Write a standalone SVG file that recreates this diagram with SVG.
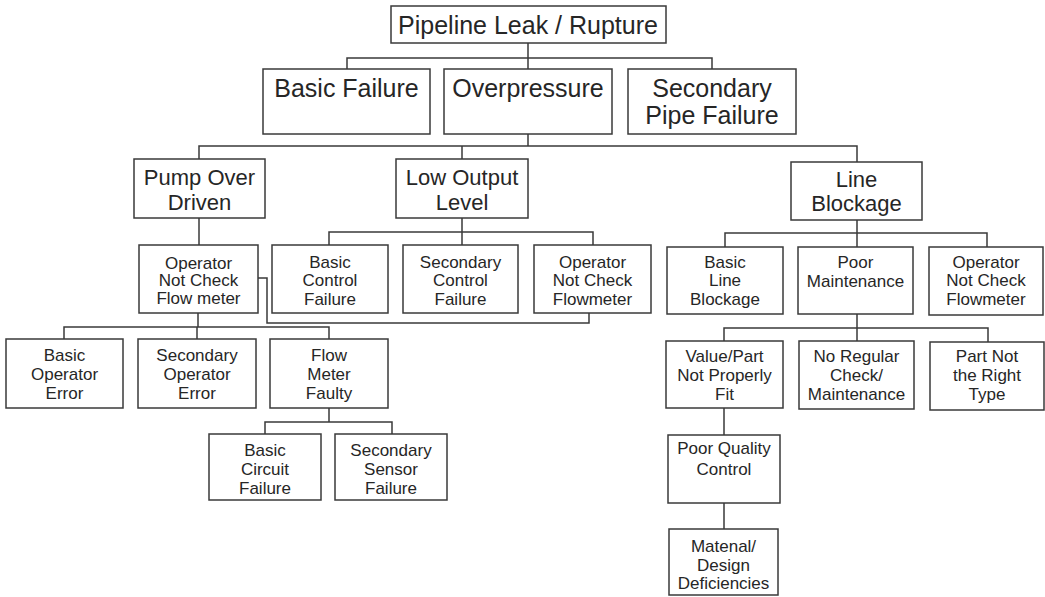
<svg xmlns="http://www.w3.org/2000/svg" width="1045" height="597" viewBox="0 0 1045 597">
<style>
rect{fill:#fff;stroke:#3a3a3a;stroke-width:1.5}
.c path{fill:none;stroke:#3a3a3a;stroke-width:1.5}
text{font-family:"Liberation Sans",Arial,sans-serif;fill:#262626;text-anchor:middle}
.l0{font-size:25px}
.l1{font-size:25px}
.l2{font-size:22px}
.l3{font-size:17px}
</style>
<rect x="0" y="0" width="1045" height="597" style="fill:#fff;stroke:none"/>
<g class="c" id="connectors">
<path d="M528,43V134M347,69V58H712V69"/>
<path d="M528,134V146M199,159V146H857V162M462,146V159"/>
<path d="M199,218V245"/>
<path d="M462,218V232M329,245V232H593V245M462,232V245"/>
<path d="M857,220V233M725,247V233H987V247M857,233V247"/>
<path d="M258,278H267V323H589V313"/>
<path d="M198,313V327M64,339V327H329V339M197,327V339"/>
<path d="M329,408V422M265,434V422H392V434"/>
<path d="M857,314V328M724,341V328H988V342M857,328V341"/>
<path d="M724,408V435M724,503V529"/>
</g>
<g id="n-top"><rect x="391" y="6" width="275" height="37"/><text class="l0" x="528" y="34">Pipeline Leak / Rupture</text></g>
<g id="n-basic-failure"><rect x="263" y="69" width="167" height="65"/><text class="l1" x="346.5" y="97">Basic Failure</text></g>
<g id="n-overpressure"><rect x="444" y="69" width="168" height="65"/><text class="l1" x="528" y="97">Overpressure</text></g>
<g id="n-secondary-pipe"><rect x="628" y="69" width="168" height="65"/><text class="l1" x="712" y="97">Secondary</text><text class="l1" x="712" y="124">Pipe Failure</text></g>
<g id="n-pump"><rect x="134" y="159" width="131" height="59"/><text class="l2" x="199.5" y="185">Pump Over</text><text class="l2" x="199.5" y="210">Driven</text></g>
<g id="n-low-output"><rect x="396" y="159" width="132" height="59"/><text class="l2" x="462" y="185">Low Output</text><text class="l2" x="462" y="210">Level</text></g>
<g id="n-line-blockage"><rect x="791" y="162" width="131" height="58"/><text class="l2" x="856.5" y="187">Line</text><text class="l2" x="856.5" y="211">Blockage</text></g>
<g id="n-op-flow-left"><rect x="139" y="245" width="119" height="68"/><text class="l3" x="198.5" y="269">Operator</text><text class="l3" x="198.5" y="286">Not Check</text><text class="l3" x="198.5" y="304">Flow meter</text></g>
<g id="n-basic-control"><rect x="272" y="245" width="116" height="68"/><text class="l3" x="330" y="268">Basic</text><text class="l3" x="330" y="286">Control</text><text class="l3" x="330" y="305">Failure</text></g>
<g id="n-secondary-control"><rect x="403" y="245" width="115" height="68"/><text class="l3" x="460.5" y="268">Secondary</text><text class="l3" x="460.5" y="286">Control</text><text class="l3" x="460.5" y="305">Failure</text></g>
<g id="n-op-flow-mid"><rect x="534" y="245" width="117" height="68"/><text class="l3" x="592.5" y="268">Operator</text><text class="l3" x="592.5" y="286">Not Check</text><text class="l3" x="592.5" y="305">Flowmeter</text></g>
<g id="n-basic-line"><rect x="667" y="247" width="116" height="67"/><text class="l3" x="725" y="268">Basic</text><text class="l3" x="725" y="286">Line</text><text class="l3" x="725" y="305">Blockage</text></g>
<g id="n-poor-maint"><rect x="798" y="247" width="115" height="67"/><text class="l3" x="855.5" y="268">Poor</text><text class="l3" x="855.5" y="287">Maintenance</text></g>
<g id="n-op-flow-right"><rect x="929" y="247" width="114" height="68"/><text class="l3" x="986" y="268">Operator</text><text class="l3" x="986" y="286">Not Check</text><text class="l3" x="986" y="305">Flowmeter</text></g>
<g id="n-basic-op-err"><rect x="6" y="339" width="117" height="69"/><text class="l3" x="64.5" y="361">Basic</text><text class="l3" x="64.5" y="380">Operator</text><text class="l3" x="64.5" y="399">Error</text></g>
<g id="n-sec-op-err"><rect x="138" y="339" width="118" height="69"/><text class="l3" x="197" y="361">Secondary</text><text class="l3" x="197" y="380">Operator</text><text class="l3" x="197" y="399">Error</text></g>
<g id="n-flow-faulty"><rect x="270" y="339" width="118" height="69"/><text class="l3" x="329" y="361">Flow</text><text class="l3" x="329" y="380">Meter</text><text class="l3" x="329" y="399">Faulty</text></g>
<g id="n-basic-circuit"><rect x="209" y="434" width="112" height="66"/><text class="l3" x="265" y="456">Basic</text><text class="l3" x="265" y="475">Circuit</text><text class="l3" x="265" y="494">Failure</text></g>
<g id="n-sec-sensor"><rect x="335" y="434" width="112" height="66"/><text class="l3" x="391" y="456">Secondary</text><text class="l3" x="391" y="475">Sensor</text><text class="l3" x="391" y="494">Failure</text></g>
<g id="n-value-part"><rect x="666" y="341" width="117" height="67"/><text class="l3" x="724.5" y="362">Value/Part</text><text class="l3" x="724.5" y="381">Not Properly</text><text class="l3" x="724.5" y="400">Fit</text></g>
<g id="n-no-regular"><rect x="799" y="341" width="115" height="68"/><text class="l3" x="856.5" y="362">No Regular</text><text class="l3" x="856.5" y="381">Check/</text><text class="l3" x="856.5" y="400">Maintenance</text></g>
<g id="n-part-not"><rect x="930" y="342" width="114" height="68"/><text class="l3" x="987" y="362">Part Not</text><text class="l3" x="987" y="381">the Right</text><text class="l3" x="987" y="400">Type</text></g>
<g id="n-poor-quality"><rect x="668" y="435" width="112" height="68"/><text class="l3" x="724" y="454">Poor Quality</text><text class="l3" x="724" y="475">Control</text></g>
<g id="n-material"><rect x="669" y="529" width="109" height="66"/><text class="l3" x="723.5" y="552">Matenal/</text><text class="l3" x="723.5" y="571">Design</text><text class="l3" x="723.5" y="589">Deficiencies</text></g>
</svg>
